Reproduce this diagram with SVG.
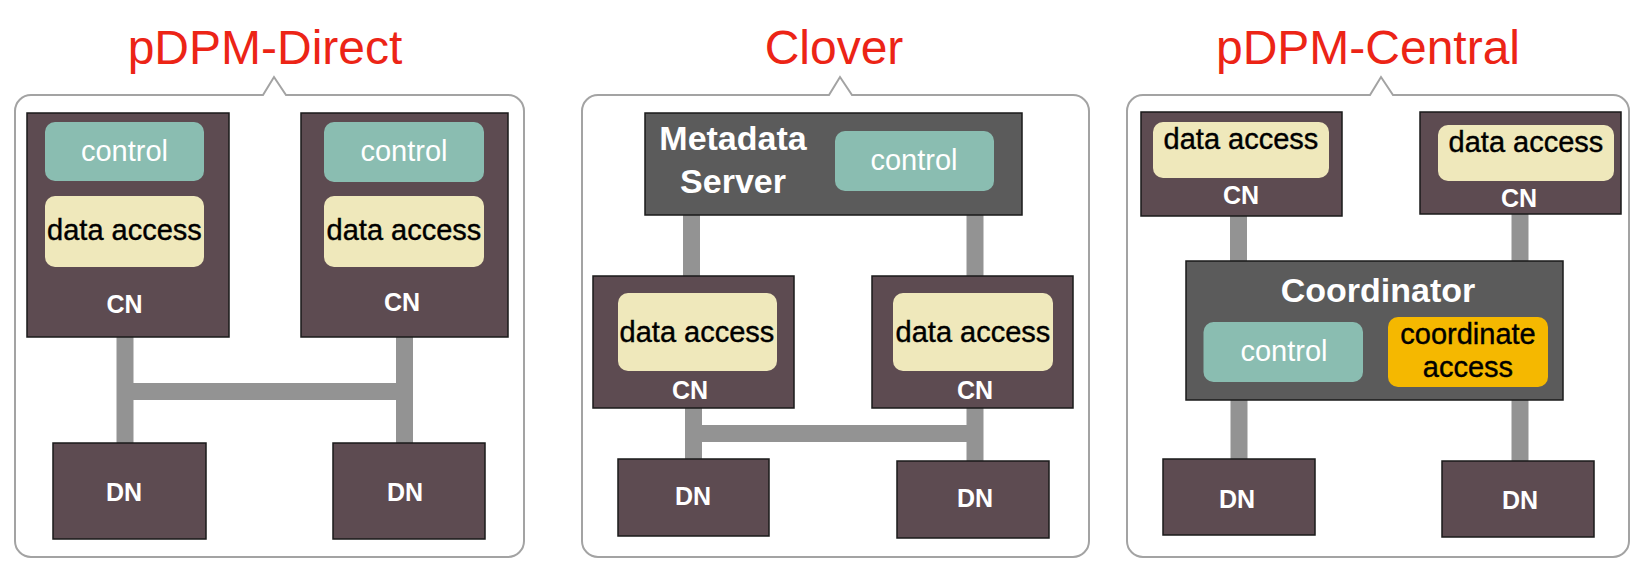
<svg xmlns="http://www.w3.org/2000/svg" width="1647" height="583" viewBox="0 0 1647 583">
<style>
text{font-family:"Liberation Sans",Arial,Helvetica,sans-serif}
.title{font-size:48px;fill:#ec2416;text-anchor:middle}
.frame{fill:#ffffff;stroke:#a3a3a3;stroke-width:2}
.node{fill:#5d4b51;stroke:#1a1a1a;stroke-width:1.5}
.srv{fill:#5b5b5b;stroke:#1a1a1a;stroke-width:1.5}
.ctl{fill:#8abdb1}
.da{fill:#efe8bb}
.ca{fill:#f5b800}
.lbl{font-size:25px;font-weight:bold;fill:#ffffff;text-anchor:middle}
.big{font-size:34px;font-weight:bold;fill:#ffffff;text-anchor:middle}
.wt{font-size:29px;fill:#ffffff;text-anchor:middle}
.bt{font-size:29px;fill:#000000;stroke:#000000;stroke-width:0.4;text-anchor:middle}
.conn{fill:none;stroke:#939393;stroke-width:17;stroke-linecap:butt}
</style>
<g id="titles">
<text class="title" x="265" y="64">pDPM-Direct</text>
<text class="title" x="834" y="64">Clover</text>
<text class="title" x="1368" y="64">pDPM-Central</text>
</g>
<g id="frames">
<path class="frame" d="M31,95 H263 L274,77 L286,95 H508 A16,16 0 0 1 524,111 V541 A16,16 0 0 1 508,557 H31 A16,16 0 0 1 15,541 V111 A16,16 0 0 1 31,95 Z"/>
<path class="frame" d="M598,95 H829 L840,77 L852,95 H1073 A16,16 0 0 1 1089,111 V541 A16,16 0 0 1 1073,557 H598 A16,16 0 0 1 582,541 V111 A16,16 0 0 1 598,95 Z"/>
<path class="frame" d="M1143,95 H1370 L1381,77 L1393,95 H1613 A16,16 0 0 1 1629,111 V541 A16,16 0 0 1 1613,557 H1143 A16,16 0 0 1 1127,541 V111 A16,16 0 0 1 1143,95 Z"/>
</g>
<g id="connectors">
<path class="conn" d="M125,336 V443"/>
<path class="conn" d="M404.5,337 V443"/>
<path class="conn" d="M125,391.5 H404.5"/>
<path class="conn" d="M691.5,215 V276"/>
<path class="conn" d="M975,215 V276"/>
<path class="conn" d="M693.5,408 V459"/>
<path class="conn" d="M975,408 V461"/>
<path class="conn" d="M693.5,433.5 H975"/>
<path class="conn" d="M1238.5,216 V261"/>
<path class="conn" d="M1520,214 V261"/>
<path class="conn" d="M1239,400 V459"/>
<path class="conn" d="M1520,400 V461"/>
</g>
<g id="d-cn1">
<rect class="node" x="27" y="113" width="202" height="224"/>
<rect class="ctl" x="45" y="122" width="159" height="59" rx="10"/>
<text class="wt" x="124.5" y="161">control</text>
<rect class="da" x="45" y="196" width="159" height="71" rx="10"/>
<text class="bt" x="124.5" y="240">data access</text>
<text class="lbl" x="124.5" y="313">CN</text>
</g>
<g id="d-cn2">
<rect class="node" x="301" y="113" width="207" height="224"/>
<rect class="ctl" x="324" y="122" width="160" height="60" rx="10"/>
<text class="wt" x="404" y="161">control</text>
<rect class="da" x="324" y="196" width="160" height="71" rx="10"/>
<text class="bt" x="404" y="240">data access</text>
<text class="lbl" x="402" y="311">CN</text>
</g>
<g id="d-dn1">
<rect class="node" x="53" y="443" width="153" height="96"/>
<text class="lbl" x="124" y="501">DN</text>
</g>
<g id="d-dn2">
<rect class="node" x="333" y="443" width="152" height="96"/>
<text class="lbl" x="405" y="501">DN</text>
</g>
<g id="c-meta">
<rect class="srv" x="645" y="113" width="377" height="102"/>
<text class="big" x="733" y="150">Metadata</text>
<text class="big" x="733" y="193">Server</text>
<rect class="ctl" x="835" y="131" width="159" height="60" rx="10"/>
<text class="wt" x="914" y="170">control</text>
</g>
<g id="c-cn1">
<rect class="node" x="593" y="276" width="201" height="132"/>
<rect class="da" x="618" y="293" width="159" height="78" rx="10"/>
<text class="bt" x="697" y="342">data access</text>
<text class="lbl" x="690" y="399">CN</text>
</g>
<g id="c-cn2">
<rect class="node" x="872" y="276" width="201" height="132"/>
<rect class="da" x="893" y="293" width="160" height="78" rx="10"/>
<text class="bt" x="973" y="342">data access</text>
<text class="lbl" x="975" y="399">CN</text>
</g>
<g id="c-dn1">
<rect class="node" x="618" y="459" width="151" height="77"/>
<text class="lbl" x="693" y="505">DN</text>
</g>
<g id="c-dn2">
<rect class="node" x="897" y="461" width="152" height="77"/>
<text class="lbl" x="975" y="507">DN</text>
</g>
<g id="p-cn1">
<rect class="node" x="1141" y="112" width="201" height="104"/>
<rect class="da" x="1153" y="122" width="176" height="56" rx="10"/>
<text class="bt" x="1241" y="149">data access</text>
<text class="lbl" x="1241" y="204">CN</text>
</g>
<g id="p-cn2">
<rect class="node" x="1420" y="112" width="201" height="102"/>
<rect class="da" x="1438" y="125" width="176" height="56" rx="10"/>
<text class="bt" x="1526" y="152">data access</text>
<text class="lbl" x="1519" y="207">CN</text>
</g>
<g id="p-coord">
<rect class="srv" x="1186" y="261" width="377" height="139"/>
<text class="big" x="1378" y="302">Coordinator</text>
<rect class="ctl" x="1203.5" y="322" width="159.5" height="60" rx="10"/>
<text class="wt" x="1284" y="361">control</text>
<rect class="ca" x="1388" y="317" width="160" height="70" rx="10"/>
<text class="bt" x="1468" y="344">coordinate</text>
<text class="bt" x="1468" y="377">access</text>
</g>
<g id="p-dn1">
<rect class="node" x="1163" y="459" width="152" height="76"/>
<text class="lbl" x="1237" y="508">DN</text>
</g>
<g id="p-dn2">
<rect class="node" x="1442" y="461" width="152" height="76"/>
<text class="lbl" x="1520" y="509">DN</text>
</g>
</svg>
